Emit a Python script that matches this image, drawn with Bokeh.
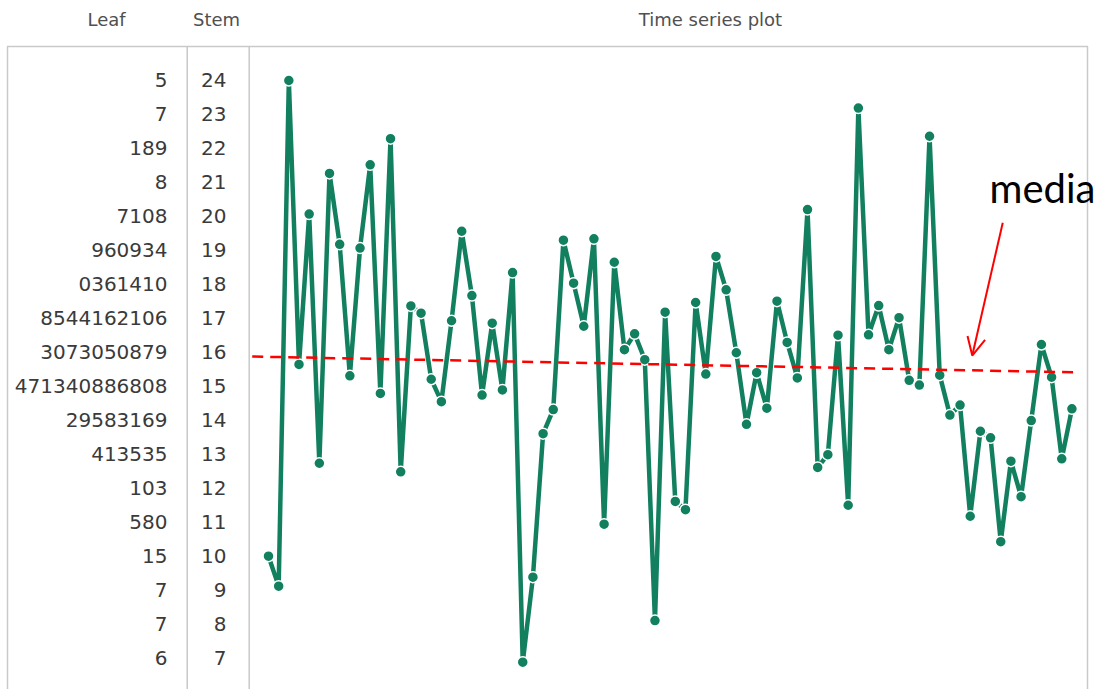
from bokeh.plotting import figure
from bokeh.models import Range1d, Arrow, OpenHead, Label
from bokeh.embed import file_html
from bokeh.resources import INLINE
from bokeh.core.properties import value

# ---------------- data ----------------
stems = [24, 23, 22, 21, 20, 19, 18, 17, 16, 15, 14, 13, 12, 11, 10, 9, 8, 7]
leaves = ["5", "7", "189", "8", "7108", "960934", "0361410", "8544162106",
          "3073050879", "471340886808", "29583169", "413535", "103", "580",
          "15", "7", "7", "6"]
headers = ["Leaf", "Stem", "Time series plot"]

series = [10.68, 9.81, 24.50, 16.25, 20.62, 13.38, 21.80, 19.74, 15.92, 19.63,
          22.05, 15.41, 22.81, 13.13, 17.95, 17.74, 15.82, 15.17, 17.52, 20.12,
          18.25, 15.36, 17.45, 15.51, 18.92, 7.60, 10.07, 14.24, 14.94, 19.86,
          18.61, 17.36, 19.90, 11.61, 19.22, 16.68, 17.14, 16.39, 8.81, 17.77,
          12.27, 12.03, 18.05, 15.97, 19.39, 18.42, 16.59, 14.51, 16.01, 14.98,
          18.09, 16.89, 15.86, 20.75, 13.26, 13.63, 17.10, 12.16, 23.70, 17.11,
          17.96, 16.68, 17.61, 15.79, 15.65, 22.88, 15.94, 14.78, 15.07, 11.84,
          14.31, 14.12, 11.10, 13.44, 12.41, 14.62, 16.83, 15.88, 13.51, 14.96]
index = list(range(1, len(series) + 1))

median_x = [-0.6, 80.5]
median_y = [16.48, 16.02]
arrow_from = (73.2, 20.37)
arrow_to = (70.2, 16.51)
note_text = "media"

# ---------------- figure ----------------
W, H = 1101, 689
p = figure(width=W, height=H, output_backend="svg", toolbar_location=None,
           x_axis_location=None, y_axis_location=None, min_border=0,
           x_range=Range1d(-25.352, 82.908), y_range=Range1d(6.807, 26.824))
p.outline_line_color = None
p.background_fill_color = "white"
p.border_fill_color = "white"
p.xgrid.visible = False
p.ygrid.visible = False

# pixel helper ranges for the table frame and headings
p.extra_x_ranges = {"px": Range1d(0, W)}
p.extra_y_ranges = {"py": Range1d(H, 0)}

frame_col = "#c9c9c9"
top_y = 46
cols_x = [7, 186.7, 248.7, 1087]
p.segment(x0=[6.5], y0=[top_y], x1=[1087.5], y1=[top_y], line_color=frame_col,
          line_width=1.5, x_range_name="px", y_range_name="py")
p.segment(x0=cols_x, y0=[top_y] * 4, x1=cols_x, y1=[H] * 4,
          line_color=frame_col, line_width=1.5, x_range_name="px", y_range_name="py")

# headings
p.text(x=[106, 216, 710], y=[19] * 3, text=headers, text_align="center",
       text_baseline="middle", text_font=value("DejaVu Sans"),
       text_font_size="18px", text_color="#505050",
       x_range_name="px", y_range_name="py")

# stem-and-leaf rows
row_y = [79.5 + 34 * i for i in range(len(stems))]
p.text(x=[167] * len(leaves), y=row_y, text=leaves, text_align="right",
       text_baseline="middle", text_font=value("DejaVu Sans"),
       text_font_size="20px", text_color="#3a3a3a",
       x_range_name="px", y_range_name="py")
p.text(x=[226] * len(stems), y=row_y, text=[str(s) for s in stems],
       text_align="right", text_baseline="middle",
       text_font=value("DejaVu Sans"), text_font_size="20px",
       text_color="#3a3a3a", x_range_name="px", y_range_name="py")

# time series
green = "#12805f"
p.line(index, series, line_color=green, line_width=4.5)
p.scatter(index, series, size=11, fill_color=green, line_color="white",
          line_width=1.5)

# median line + annotation
p.line(median_x, median_y, line_color="#ff0000", line_width=2.5, line_dash="11 7")
p.add_layout(Arrow(end=OpenHead(size=18, line_color="#ff0000", line_width=2),
                   x_start=arrow_from[0], y_start=arrow_from[1],
                   x_end=arrow_to[0], y_end=arrow_to[1],
                   line_color="#ff0000", line_width=2))
p.add_layout(Label(x=989, y=187, text=note_text, text_font="Lato",
                   text_font_size="40px", text_color="black",
                   text_baseline="middle",
                   x_range_name="px", y_range_name="py"))

open("out.html", "w").write(file_html(p, INLINE))
